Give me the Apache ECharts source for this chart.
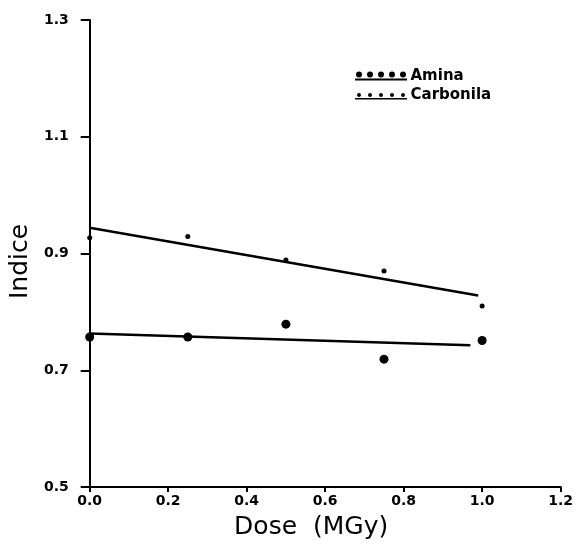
<!DOCTYPE html>
<html>
<head>
<meta charset="utf-8">
<script src="https://cdn.jsdelivr.net/npm/echarts@6/dist/echarts.min.js"></script>
<style>
html,body{margin:0;padding:0;background:#fff;}
#chart{width:576px;height:547px;}
</style>
</head>
<body>
<div id="chart"></div>
<script>
// Data
const doses = [0.0, 0.25, 0.5, 0.75, 1.0];
const aminaValues = [0.757, 0.757, 0.779, 0.719, 0.751];
const carbonilaValues = [0.927, 0.929, 0.889, 0.870, 0.810];
// fitted lines as drawn (endpoints)
const aminaFitX = [0.0, 0.97];
const aminaFitY = [0.763, 0.743];
const carbonilaFitX = [0.0, 0.99];
const carbonilaFitY = [0.944, 0.828];
const xTicks = [0.0, 0.2, 0.4, 0.6, 0.8, 1.0, 1.2];
const yTicks = [0.5, 0.7, 0.9, 1.1, 1.3];
const seriesNames = ['Amina', 'Carbonila'];

const zip = (xs, ys) => xs.map((x, i) => [x, ys[i]]);

const aminaIcon = 'path://M1,3a3,3 0 1,0 6,0a3,3 0 1,0 -6,0Z M12,3a3,3 0 1,0 6,0a3,3 0 1,0 -6,0Z M23,3a3,3 0 1,0 6,0a3,3 0 1,0 -6,0Z M34,3a3,3 0 1,0 6,0a3,3 0 1,0 -6,0Z M45,3a3,3 0 1,0 6,0a3,3 0 1,0 -6,0Z M0,7H52V9H0Z';
const carbIcon = 'path://M2,4.5a2,2 0 1,0 4,0a2,2 0 1,0 -4,0Z M13,4.5a2,2 0 1,0 4,0a2,2 0 1,0 -4,0Z M24,4.5a2,2 0 1,0 4,0a2,2 0 1,0 -4,0Z M35,4.5a2,2 0 1,0 4,0a2,2 0 1,0 -4,0Z M46,4.5a2,2 0 1,0 4,0a2,2 0 1,0 -4,0Z M0,7.5H52V9H0Z M0,0H0.01V0.01H0Z';

const chart = echarts.init(document.getElementById('chart'), null, {renderer: 'canvas'});
chart.setOption({
  animation: false,
  backgroundColor: '#fff',
  grid: {left: 88, right: 13, top: 20, bottom: 60},
  legend: {
    orient: 'vertical',
    left: 350,
    top: 62,
    itemWidth: 53,
    itemHeight: 9,
    itemGap: 1,
    textStyle: {fontFamily: 'DejaVu Sans', fontWeight: 'bold', fontSize: 15, lineHeight: 18, color: '#000', padding: [0, 0, 0, -2]},
    data: [
      {name: seriesNames[0], icon: aminaIcon, itemStyle: {color: '#000', opacity: 1}},
      {name: seriesNames[1], icon: carbIcon, itemStyle: {color: '#000', opacity: 1}}
    ]
  },
  xAxis: {
    type: 'value', min: 0, max: 1.2, interval: 0.2,
    name: 'Dose  (MGy)', nameLocation: 'middle', nameGap: 28,
    nameTextStyle: {fontFamily: 'DejaVu Sans', fontSize: 25, color: '#000', padding: [0, 28, 0, 0]},
    axisLine: {onZero: false, lineStyle: {color: '#000', width: 2}},
    axisTick: {show: true, inside: false, length: 5, lineStyle: {color: '#000', width: 2}},
    axisLabel: {fontFamily: 'DejaVu Sans', fontWeight: 'bold', fontSize: 14, color: '#000', margin: 7,
      formatter: v => v.toFixed(1)},
    splitLine: {show: false}
  },
  yAxis: {
    type: 'value', min: 0.5, max: 1.3, interval: 0.2,
    name: 'Indice', nameLocation: 'middle', nameGap: 50,
    nameTextStyle: {fontFamily: 'DejaVu Sans', fontSize: 25, color: '#000', padding: [0, 16, 0, 0]},
    axisLine: {onZero: false, lineStyle: {color: '#000', width: 2}},
    axisTick: {show: true, inside: false, length: 9, lineStyle: {color: '#000', width: 2}},
    axisLabel: {fontFamily: 'DejaVu Sans', fontWeight: 'bold', fontSize: 14, color: '#000', margin: 21,
      formatter: v => v.toFixed(1)},
    splitLine: {show: false}
  },
  series: [
    {name: seriesNames[0], type: 'scatter', data: zip(doses, aminaValues), symbol: 'circle', symbolSize: 9,
      itemStyle: {color: '#000', opacity: 1}},
    {name: seriesNames[1], type: 'scatter', data: zip(doses, carbonilaValues), symbol: 'circle', symbolSize: 5,
      itemStyle: {color: '#000', opacity: 1}},
    {name: 'aminaFit', type: 'line', data: zip(aminaFitX, aminaFitY), symbol: 'none',
      lineStyle: {color: '#000', width: 2.5}},
    {name: 'carbonilaFit', type: 'line', data: zip(carbonilaFitX, carbonilaFitY), symbol: 'none',
      lineStyle: {color: '#000', width: 2.5}}
  ]
});
</script>
</body>
</html>
